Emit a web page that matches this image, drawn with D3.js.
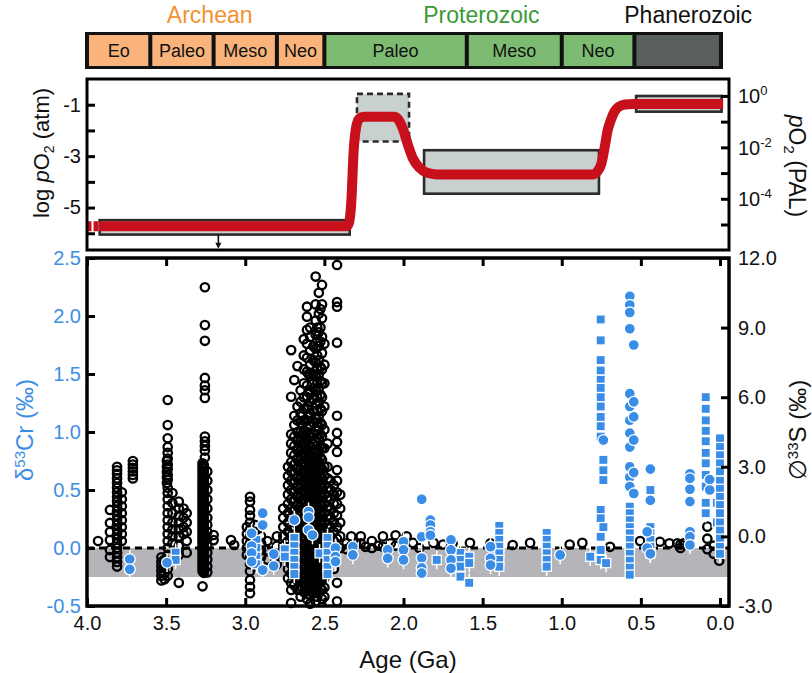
<!DOCTYPE html>
<html><head><meta charset="utf-8">
<script src="https://cdn.jsdelivr.net/npm/d3@7"></script>
<style>
body{margin:0;background:#fff}
svg{display:block}
text{font-family:"Liberation Sans",Arial,Helvetica,sans-serif}
</style>
</head><body>
<svg id="c" width="812" height="673"></svg>
<script>
// ---------------- DATA ----------------
const eraBounds = [4.0, 3.6, 3.2, 2.8, 2.5, 1.6, 1.0, 0.541, 0.0];
const eraNames  = ["Eo","Paleo","Meso","Neo","Paleo","Meso","Neo",""];
const eraEon    = [0,0,0,0,1,1,1,2];
const eonNames  = ["Archean","Proterozoic","Phanerozoic"];
const eonBounds = [[4.0,2.5],[2.5,0.541],[0.541,0.0]];

// log pO2 (atm) model curve
const o2Age = [3.925,2.36,2.345,2.33,2.315,2.30,2.28,2.25,2.06,2.03,2.00,1.97,1.94,1.90,1.85,1.79,0.80,0.775,0.75,0.73,0.71,0.69,0.665,0.64,0.60,0.55,-0.02];
const o2Log = [-5.73,-5.73,-5.6,-4.8,-2.8,-1.9,-1.55,-1.47,-1.47,-1.6,-2.0,-2.6,-3.1,-3.45,-3.65,-3.71,-3.71,-3.6,-3.3,-2.7,-2.0,-1.6,-1.25,-1.08,-0.99,-0.97,-0.97];
const o2DashAge = [4.0, 3.925];
// constraint boxes: [age start, age end, log low, log high, dashed]
const o2Boxes = [
  [3.92, 2.34, -6.05, -5.49, false],
  [2.294, 1.965, -2.43, -0.58, true],
  [1.87, 0.765, -4.46, -2.77, false],
  [0.53, -0.01, -1.27, -0.66, false]
];
const o2Arrow = [3.17, -6.05, -6.6];

// Delta33S (black open circles): [age, values]
const d33S = [
 [3.93, [-0.2]],
 [3.855, [1.14, 0.58, 0.19, -0.16, -0.59, -0.89]],
 [3.81, [3.0, 2.85, 2.7, 2.5, 2.3, 2.1, 1.9, 1.7, 1.5, 1.3, 1.1, 0.9, 0.7, 0.5, 0.3, 0.1, -0.1, -0.3, -0.5, -0.7, -0.9, -1.1, -1.3]],
 [3.78, [1.9, 1.6, 1.3, 1.0, 0.7, 0.4, 0.1, -0.2]],
 [3.71, [3.25, 3.1, 2.95, 2.8, 2.65, 2.5]],
 [3.53, [-0.9, -1.1, -1.3, -1.5, -1.7, -1.9]],
 [3.51, [-1.0, -1.3, -1.6, -1.85]],
 [3.49, [5.88, 4.8, 4.23, 3.85, 3.6, 3.35, 3.1, 2.9, 2.65, 2.45, 2.1, 1.87, 1.6, 1.3, 1.0, 0.7, 0.4, 0.1, -0.2, -0.5, -0.8, -1.1, -1.4, -1.7]],
 [3.495, [3.25, 3.0, 2.78, 2.55, 2.3]],
 [3.46, [1.87, 1.44, 1.0, 0.6, 0.3, 0.0, -0.3]],
 [3.42, [1.5, 1.2, 0.9, 0.6, 0.3, 0.0, -0.4, -0.8, -2.0]],
 [3.39, [1.2, 0.8, 0.4, 0.1]],
 [3.37, [1.0, 0.6, 0.2, -0.2, -0.7]],
 [3.255, [10.74, 9.11, 8.43, 6.83, 6.5, 6.3, 5.97, 4.3, 4.1, 3.9, 3.7, 3.4]],
 [3.27, [3.15, 3.0, 2.85, 2.7, 2.55, 2.4, 2.25, 2.1, 1.95, 1.8, 1.65, 1.5, 1.35, 1.2, 1.05, 0.9, 0.75, 0.6, 0.45, 0.3, 0.15, 0.0, -0.15, -0.3, -0.45, -0.6, -0.75, -0.9, -1.05, -1.2, -1.35, -1.5, -2.15]],
 [3.262, [3.08, 2.93, 2.78, 2.63, 2.48, 2.33, 2.18, 2.03, 1.88, 1.73, 1.58, 1.43, 1.28, 1.13, 0.98, 0.83, 0.68, 0.53, 0.38, 0.23, 0.08, -0.07, -0.22, -0.37, -0.52, -0.67, -0.82, -0.97, -1.12, -1.27, -1.42, -1.57]],
 [3.24, [2.8, 2.4, 2.0, 1.6, 1.2, 0.8, 0.5, 0.2, -0.1, -0.4, -0.7, -1.0, -1.3, -1.55]],
 [3.20, [0.06, -0.16]],
 [3.09, [-0.16]],
 [3.07, [-0.37]],
 [2.99, [0.4, 0.1, -0.2, -0.5, -0.8]],
 [2.97, [1.71, 1.5, 1.14, 0.9, 0.6, 0.3, 0.0, -0.3, -0.6, -0.9, -1.2, -1.5, -1.88, -2.17, -2.45]],
 [2.94, [0.5, 0.2, -0.1, -0.4, -0.7, -1.0, -1.3]],
 [2.90, [0.0, -0.3, -0.6, -0.9]],
 [2.86, [-0.2, -0.6, -1.0]],
 [2.80, [0.0, -0.4, -0.8, -1.2]],
 [2.76, [1.2, 0.8, 0.4, 0.0, -0.4, -0.8]],
 [2.73, [3.0, 2.6, 2.2, 1.8, 1.4, 1.0, 0.6, 0.2, -0.2, -0.6, -1.0, -1.4, -1.8]],
 [2.71, [8.03, 6.02, 4.4, 4.0, 3.6, 3.2, 2.8, 2.4, 2.0, 1.6, 1.2, 0.8, 0.4, 0.0, -0.4, -0.8, -1.2, -1.6, -2.0, -2.31, -2.87]],
 [2.69, [6.74, 5.2, 4.8, 4.3, 3.9, 3.5, 3.1, 2.7, 2.3, 1.9, 1.5, 1.1, 0.7, 0.3, -0.1, -0.5, -0.9, -1.3, -1.7, -2.1]],
 [2.67, [7.34, 5.6, 5.0, 4.5, 4.1, 3.7, 3.3, 2.9, 2.5, 2.1, 1.7, 1.3, 0.9, 0.5, 0.1, -0.3, -0.7, -1.1, -1.5, -1.9, -2.3]],
 [2.65, [6.3, 5.8, 5.3, 4.9, 4.5, 4.1, 3.7, 3.3, 2.9, 2.5, 2.1, 1.7, 1.3, 0.9, 0.5, 0.1, -0.3, -0.7, -1.1, -1.5, -1.9, -2.3, -2.6]],
 [2.64, [5.2, 4.8, 4.4, 4.0, 3.6, 3.2, 2.8, 2.4, 2.0, 1.6, 1.2, 0.8, 0.4, 0.0, -0.4, -0.8, -1.2, -1.6, -2.0, -2.2]],
 [2.63, [8.5, 7.8, 7.2, 6.6, 6.0, 5.5, 5.0, 4.5, 4.0, 3.6, 3.2, 2.8, 2.4, 2.0, 1.6, 1.2, 0.8, 0.4, 0.0, -0.4, -0.8, -1.2, -1.6, -2.0, -2.4]],
 [2.61, [9.9, 9.47, 8.9, 8.3, 7.7, 7.1, 6.5, 6.0, 5.5, 5.0, 4.5, 4.1, 3.7, 3.3, 2.9, 2.5, 2.1, 1.7, 1.3, 0.9, 0.5, 0.1, -0.3, -0.7, -1.1, -1.5, -1.9, -2.3, -2.7]],
 [2.60, [7.0, 6.2, 5.6, 5.2, 4.8, 4.4, 4.0, 3.6, 3.2, 2.8, 2.4, 2.0, 1.6, 1.2, 0.8, 0.4, 0.0, -0.4, -0.8, -1.2, -1.6, -2.0, -2.5]],
 [2.59, [9.0, 8.6, 8.0, 7.4, 6.9, 6.3, 5.8, 5.3, 4.8, 4.3, 3.9, 3.5, 3.1, 2.7, 2.3, 1.9, 1.5, 1.1, 0.7, 0.3, -0.1, -0.5, -0.9, -1.3, -1.7, -2.1, -2.5, -2.9]],
 [2.57, [8.2, 7.6, 7.0, 6.4, 5.9, 5.4, 4.9, 4.4, 4.0, 3.6, 3.2, 2.8, 2.4, 2.0, 1.6, 1.2, 0.8, 0.4, 0.0, -0.4, -0.8, -1.2, -1.6, -2.0, -2.4]],
 [2.555, [11.2, 10.0, 9.3, 8.7, 8.1, 7.5, 6.9, 6.3, 5.7, 5.1, 4.6, 4.1, 3.6, 3.2, 2.8, 2.4, 2.0, 1.6, 1.2, 0.8, 0.4, 0.0, -0.4, -0.8, -1.2, -1.6, -2.0, -2.4, -2.8]],
 [2.545, [9.0, 8.4, 7.8, 7.2, 6.6, 6.0, 5.4, 4.9, 4.4, 3.9, 3.4, 3.0, 2.6, 2.2, 1.8, 1.4, 1.0, 0.6, 0.2, -0.2, -0.6, -1.0, -1.4, -1.8, -2.2, -2.6]],
 [2.535, [10.5, 9.6, 8.8, 8.2, 7.6, 7.0, 6.4, 5.8, 5.2, 4.7, 4.2, 3.7, 3.2, 2.8, 2.4, 2.0, 1.6, 1.2, 0.8, 0.4, 0.0, -0.4, -0.8, -1.2, -1.6, -2.0, -2.4]],
 [2.525, [9.8, 9.0, 8.4, 7.3, 6.7, 6.1, 5.5, 4.9, 4.4, 3.9, 3.4, 3.0, 2.6, 2.2, 1.8, 1.4, 1.0, 0.6, 0.2, -0.2, -0.6, -1.0, -1.4, -1.8, -2.2]],
 [2.515, [10.84, 10.0, 9.4, 8.6, 7.9, 7.2, 6.6, 6.0, 5.4, 4.8, 4.3, 3.8, 3.3, 2.9, 2.5, 2.1, 1.7, 1.3, 0.9, 0.5, 0.1, -0.3, -0.7, -1.1, -1.5, -1.9, -2.3, -2.7]],
 [2.50, [8.3, 7.4, 6.6, 5.6, 4.6, 3.8, 3.0, 2.6, 2.2, 1.8, 1.4, 1.0, 0.6, 0.2, -0.2, -0.6, -1.0, -1.4, -1.8, -2.2, -2.6]],
 [2.48, [4.0, 3.0, 2.5, 2.1, 1.7, 1.3, 0.9, 0.5, 0.1, -0.3, -0.7, -1.1, -1.5]],
 [2.46, [2.4, 2.0, 1.6, 1.2, 0.8, 0.4, 0.0, -0.4, -0.8]],
 [2.44, [2.2, 1.8, 1.4, 1.0, 0.6, 0.2, -0.2, -0.6, -1.0, -1.4]],
 [2.42, [11.7, 10.1, 9.9, 8.35, 5.2, 4.46, 4.07, 3.64, 2.86, 2.4, 1.9, 1.4, 0.9, 0.4, -0.1, -0.6, -2.0, -2.8]],
 [2.40, [1.8, 1.2, 0.6, 0.0, -0.5]],
 [2.36, [-0.3, -0.55]], [2.33, [0.0, -0.4]], [2.30, [-0.3]], [2.27, [0.0, -0.3]],
 [2.24, [-0.45]], [2.20, [-0.2, -0.5]], [2.16, [-0.4]], [2.13, [0.0, -0.45]],
 [2.08, [-0.3]], [2.05, [0.05, -0.4]], [1.98, [0.0]], [1.94, [-0.28]], [1.90, [-0.5]],
 [1.81, [-0.28]], [1.75, [-0.35]], [1.69, [-0.3]], [1.58, [-0.28]], [1.45, [-0.3]],
 [1.31, [-0.37]], [1.20, [-0.28]], [0.95, [-0.35]], [0.87, [-0.28]], [0.695, [-0.45]],
 [0.505, [-0.2]], [0.38, [-0.23]], [0.32, [-0.3]], [0.27, [-0.3]], [0.25, [-0.35, -0.5]],
 [0.23, [-0.3]], [0.08, [0.42, -0.1, -0.55]], [0.04, [-0.4, -0.75]], [0.005, [-1.05]]
];

// delta53Cr (blue): [age, values]
const crCircles = [
 [3.73, [-0.097, -0.184]],
 [3.494, [-0.127]],
 [2.96, [0.127, 0.017, -0.043, -0.118]],
 [2.89, [0.30, 0.198, -0.19]],
 [2.82, [-0.052, -0.155]],
 [2.69, [0.24]],
 [2.60, [0.313, 0.265, 0.155]],
 [2.575, [0.112]],
 [2.43, [0.0, -0.075, -0.118]],
 [2.32, [0.011, -0.06]],
 [2.10, [-0.017, -0.089]],
 [2.00, [0.054, -0.017, -0.103]],
 [1.885, [0.42, 0.097, -0.086, -0.172, -0.216]],
 [1.83, [0.24, 0.198, 0.14, 0.11]],
 [1.70, [0.07, -0.017, -0.103, -0.175]],
 [1.45, [0.011, -0.089, -0.147]],
 [1.01, [-0.06]],
 [0.737, [0.93]],
 [0.57, [2.17, 2.095, 2.03, 1.89, 1.33, 1.22, 1.10, 0.99, 0.87, 0.70, 0.61, 0.53]],
 [0.545, [1.75, 1.26, 1.13, 0.93, 0.65, 0.47]],
 [0.46, [0.14, 0.0]],
 [0.44, [0.68, 0.41, -0.05]],
 [0.19, [0.64, 0.60, 0.506, 0.40, 0.14, 0.097, 0.026]],
 [0.065, [0.59, 0.5]]
];
const crSquares = [
 [3.44, [-0.04, -0.103]],
 [2.93, [0.07, 0.0, -0.075, -0.14]],
 [2.75, [-0.011, -0.075]],
 [2.69, [0.086, 0.017, -0.043, -0.103, -0.164, -0.224]],
 [2.53, [-0.046]],
 [2.48, [0.086, 0.017, -0.043, -0.103, -0.164, -0.224]],
 [1.79, [-0.103]],
 [1.64, [-0.043, -0.103, -0.16, -0.247]],
 [1.585, [-0.075, -0.129, -0.30]],
 [1.395, [0.19, 0.13, 0.07, 0.011, -0.046, -0.103, -0.161]],
 [1.095, [0.13, 0.07, 0.011, -0.046, -0.103, -0.161]],
 [0.82, [-0.075]],
 [0.754, [1.97, 1.79, 1.62, 1.53, 1.45, 1.38, 1.30, 1.22, 1.13, 1.05, 0.96, 0.328, 0.256, 0.097, -0.017, -0.103]],
 [0.737, [0.76, 0.67, 0.586, 0.18]],
 [0.72, [-0.13]],
 [0.57, [0.356, 0.30, 0.24, 0.18, 0.127, 0.07, 0.01, -0.05, -0.11, -0.17, -0.23]],
 [0.44, [0.5, 0.18, 0.127, 0.07, 0.01, -0.046]],
 [0.09, [1.30, 1.20, 1.10, 1.01, 0.92, 0.82, 0.73, 0.63, 0.53, 0.39, 0.30]],
 [0.02, [0.39, 0.22]],
 [0.0, [0.945, 0.87, 0.80, 0.73, 0.66, 0.58, 0.51, 0.44, 0.37, 0.30, 0.22, 0.15, 0.08, 0.01, -0.05]]
];
const crErr = 0.08;
const crBand = [-0.25, 0.0];

const ageTicks = [4.0, 3.5, 3.0, 2.5, 2.0, 1.5, 1.0, 0.5, 0.0];
const crTicks  = [-0.5, 0.0, 0.5, 1.0, 1.5, 2.0, 2.5];
const sTicks   = [-3, 0, 3, 6, 9, 12];
const o2Ticks  = [-1, -2, -3, -4, -5, -6];
const palTicks = [0, -1, -2, -3, -4, -5];

// ---------------- DRAW ----------------
const svg = d3.select("#c");
const L = 87, R = 729;
const x = d3.scaleLinear().domain([4, 0]).range([87, 720]);
const yO2 = d3.scaleLinear().domain([-6.65, 0]).range([250, 79]);
const yCr = d3.scaleLinear().domain([-0.5, 2.5]).range([606, 258]);
const yS  = d3.scaleLinear().domain([-3, 12]).range([606, 258]);
const FONT = '"Liberation Sans",Arial,Helvetica,sans-serif';
const eonFill = ["#F9B37B", "#7DBB72", "#5A5F5F"];
const eonText = ["#F39230", "#3B9A38", "#111"];
const BLUE = "#3A8DE6";

// ---- timescale bar ----
const tb = svg.append("g");
tb.append("rect").attr("x", x(4) - 2).attr("y", 32).attr("width", x(0) + 3 - (x(4) - 2)).attr("height", 37).attr("fill", "#111");
eraNames.forEach((n, i) => {
  const a0 = eraBounds[i], a1 = eraBounds[i + 1];
  const x0 = x(a0) + 2, x1 = (i === eraNames.length - 1) ? x(a1) - 1 : x(a1) - 2;
  tb.append("rect").attr("x", x0).attr("y", 35).attr("width", x1 - x0).attr("height", 31).attr("fill", eonFill[eraEon[i]]);
  if (n) tb.append("text").attr("x", (x0 + x1) / 2).attr("y", 57).attr("text-anchor", "middle")
    .attr("font-size", 18).attr("fill", "#111").text(n);
});
const eonDx = [4, 2, 11];
eonNames.forEach((n, i) => {
  tb.append("text").attr("x", (x(eonBounds[i][0]) + x(eonBounds[i][1])) / 2 + eonDx[i]).attr("y", 23)
    .attr("text-anchor", "middle").attr("font-size", 23).attr("fill", eonText[i]).text(n);
});

// ---- oxygen panel ----
const op = svg.append("g");
o2Boxes.forEach(b => {
  op.append("rect").attr("x", x(b[0])).attr("y", yO2(b[3]))
    .attr("width", x(b[1]) - x(b[0])).attr("height", yO2(b[2]) - yO2(b[3]))
    .attr("fill", "#C9D1D0").attr("stroke", "#2b2b2b").attr("stroke-width", 2.6)
    .attr("stroke-dasharray", b[4] ? "6,4" : null);
});
const o2Pts = o2Age.map((a, i) => [a, o2Log[i]]);
const o2Line = d3.line().x(d => x(d[0])).y(d => yO2(d[1])).curve(d3.curveMonotoneX);
op.append("path").attr("d", o2Line(o2Pts)).attr("fill", "none").attr("stroke", "#C8101D").attr("stroke-width", 10).attr("stroke-linejoin", "round");
op.append("path").attr("d", o2Line(o2DashAge.map(a => [a, o2Log[0]]))).attr("fill", "none")
  .attr("stroke", "#C8101D").attr("stroke-width", 10).attr("stroke-dasharray", "4.5,2");
// arrow
const ax = x(o2Arrow[0]);
op.append("line").attr("x1", ax).attr("x2", ax).attr("y1", yO2(o2Arrow[1])).attr("y2", yO2(o2Arrow[2]) - 5).attr("stroke", "#111").attr("stroke-width", 1.6);
op.append("path").attr("d", `M${ax - 3},${yO2(o2Arrow[2]) - 6} L${ax + 3},${yO2(o2Arrow[2]) - 6} L${ax},${yO2(o2Arrow[2])} Z`).attr("fill", "#111");

function styleAxis(g, color, size) {
  g.select(".domain").remove();
  g.attr("font-family", FONT).attr("font-size", size);
  g.selectAll(".tick line").attr("stroke", "#000").attr("stroke-width", 3);
  g.selectAll(".tick text").attr("fill", color);
}
const oL = op.append("g").attr("transform", `translate(${L},0)`)
  .call(d3.axisLeft(yO2).tickValues(o2Ticks).tickSize(-8).tickPadding(6).tickFormat(d => (d % 2) ? String(d) : ""));
styleAxis(oL, "#111", 20);
// right PAL ticks
const pal = op.append("g");
palTicks.forEach(p => {
  const yy = yO2(p + Math.log10(0.21));
  pal.append("line").attr("x1", R - 8).attr("x2", R).attr("y1", yy).attr("y2", yy).attr("stroke", "#000").attr("stroke-width", 3);
  if (p % 2 === 0) {
    const t = pal.append("text").attr("x", R + 9).attr("y", yy + 7).attr("font-size", 20).attr("fill", "#111");
    t.append("tspan").text("10");
    t.append("tspan").attr("dy", -8).attr("font-size", 13).text(p === 0 ? "0" : String(p));
  }
});
op.append("rect").attr("x", L).attr("y", 79).attr("width", R - L).attr("height", 171).attr("fill", "none").attr("stroke", "#000").attr("stroke-width", 3);

const t1 = op.append("text").attr("transform", "translate(49,153) rotate(-90)").attr("text-anchor", "middle").attr("font-size", 22).attr("fill", "#111");
t1.append("tspan").text("log ");
t1.append("tspan").attr("font-style", "italic").text("p");
t1.append("tspan").text("O");
t1.append("tspan").attr("font-size", 14).attr("dy", 5).text("2");
t1.append("tspan").attr("dy", -5).text(" (atm)");
const t2 = op.append("text").attr("transform", "translate(789,166) rotate(90)").attr("text-anchor", "middle").attr("font-size", 23).attr("fill", "#111");
t2.append("tspan").attr("font-style", "italic").text("p");
t2.append("tspan").text("O");
t2.append("tspan").attr("font-size", 15).attr("dy", 5).text("2");
t2.append("tspan").attr("dy", -5).text(" (PAL)");

// ---- main panel ----
const mp = svg.append("g");
mp.append("rect").attr("x", L).attr("y", yCr(crBand[1])).attr("width", R - L).attr("height", yCr(crBand[0]) - yCr(crBand[1])).attr("fill", "#B4B4B9");
mp.append("line").attr("x1", L).attr("x2", R).attr("y1", yCr(0)).attr("y2", yCr(0)).attr("stroke", "#000").attr("stroke-width", 3).attr("stroke-dasharray", "7,5");

const sPts = [];
d33S.forEach(g => g[1].forEach(v => sPts.push([g[0], v])));
mp.append("g").selectAll("circle").data(sPts).join("circle")
  .attr("cx", d => x(d[0])).attr("cy", d => yS(d[1])).attr("r", 4.2)
  .attr("fill", "none").attr("stroke", "#000").attr("stroke-width", 2.3);

const cPts = [], qPts = [];
crCircles.forEach(g => g[1].forEach(v => cPts.push([g[0], v])));
crSquares.forEach(g => g[1].forEach(v => qPts.push([g[0], v])));
mp.append("g").selectAll("line").data(cPts.concat(qPts)).join("line")
  .attr("x1", d => x(d[0])).attr("x2", d => x(d[0]))
  .attr("y1", d => yCr(d[1] - crErr)).attr("y2", d => yCr(d[1] + crErr))
  .attr("stroke", "#fff").attr("stroke-width", 1.5);
mp.append("g").selectAll("rect").data(qPts).join("rect")
  .attr("x", d => x(d[0]) - 4.6).attr("y", d => yCr(d[1]) - 4.6).attr("width", 9.2).attr("height", 9.2)
  .attr("fill", BLUE).attr("stroke", "#fff").attr("stroke-width", 1.3);
mp.append("g").selectAll("circle").data(cPts).join("circle")
  .attr("cx", d => x(d[0])).attr("cy", d => yCr(d[1])).attr("r", 5.5)
  .attr("fill", BLUE).attr("stroke", "#fff").attr("stroke-width", 1.3);

const fmt = d => d.toFixed(1);
const mL = mp.append("g").attr("transform", `translate(${L},0)`).call(d3.axisLeft(yCr).tickValues(crTicks).tickSize(-8).tickPadding(6).tickFormat(fmt));
styleAxis(mL, "#3D8EE3", 20);
const mR = mp.append("g").attr("transform", `translate(${R},0)`).call(d3.axisRight(yS).tickValues(sTicks).tickSize(-8).tickPadding(9).tickFormat(fmt));
styleAxis(mR, "#111", 20);
const mB = mp.append("g").attr("transform", `translate(0,606)`).call(d3.axisBottom(x).tickValues(ageTicks).tickSize(-8).tickPadding(10).tickFormat(fmt));
styleAxis(mB, "#111", 20);
const mT = mp.append("g").attr("transform", `translate(0,258)`).call(d3.axisTop(x).tickValues(ageTicks).tickSize(-8).tickFormat(""));
styleAxis(mT, "#111", 20);
mp.append("rect").attr("x", L).attr("y", 258).attr("width", R - L).attr("height", 348).attr("fill", "none").attr("stroke", "#000").attr("stroke-width", 3.5);

const t3 = mp.append("text").attr("transform", "translate(33,430) rotate(-90)").attr("text-anchor", "middle").attr("font-size", 24).attr("fill", "#3D8EE3");
t3.append("tspan").text("δ");
t3.append("tspan").attr("font-size", 15).attr("dy", -8).text("53");
t3.append("tspan").attr("dy", 8).text("Cr (‰)");
const t4 = mp.append("text").attr("transform", "translate(806,430) rotate(-90)").attr("text-anchor", "middle").attr("font-size", 24).attr("fill", "#111");
t4.append("tspan").text("∅");
t4.append("tspan").attr("font-size", 15).attr("dy", -8).text("33");
t4.append("tspan").attr("dy", 8).text("S (‰)");

svg.append("text").attr("x", (L + R) / 2).attr("y", 668).attr("text-anchor", "middle").attr("font-size", 24).attr("fill", "#111").text("Age (Ga)");
</script>
</body></html>
